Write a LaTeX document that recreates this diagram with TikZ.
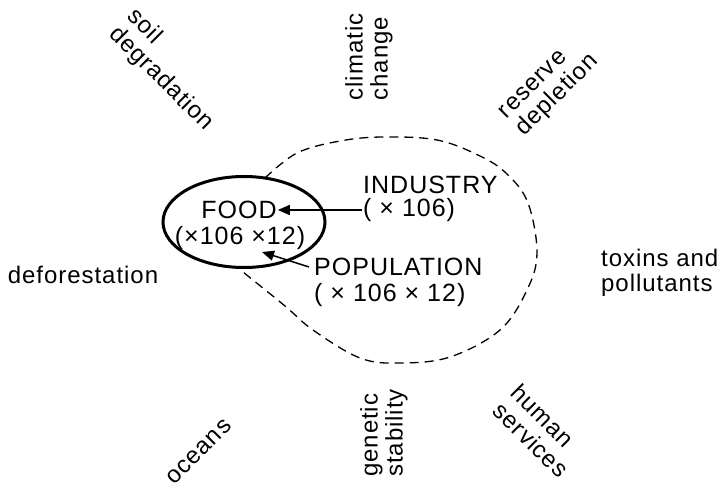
\documentclass[tikz,border=0pt]{standalone}
\usepackage{fontspec}
\setmainfont{Liberation Sans}[LetterSpace=4]
\usetikzlibrary{arrows.meta,shapes.geometric}
\tikzset{
  lab/.style={font=\fontsize{24}{25}\selectfont, align=left, inner sep=0pt},
  mid/.style={font=\fontsize{25}{25}\selectfont, inner sep=1pt},
  arr/.style={line width=1.5pt, -{Triangle[length=12pt,width=10pt]}},
  ring/.style={draw, ellipse, line width=3pt},
  blob/.style={line width=1.3pt, dash pattern=on 9pt off 6pt}
}
\begin{document}
\begin{tikzpicture}[x=1pt,y=-1pt]
\useasboundingbox (0,0) rectangle (718,489);
% outer labels
\node[lab, rotate=-45] (soil) at (170,70) {soil\\degradation};
\node[lab, rotate=90] (clim) at (369,57) {climatic\\change};
\node[lab, rotate=45] (res) at (550,88) {reserve\\depletion};
\node[lab] (defo) at (83,275) {deforestation};
\node[lab, anchor=west] (tox) at (601,273) {toxins and\\pollutants};
\node[lab, rotate=45] (ocean) at (199,452) {oceans};
\node[lab, rotate=90] (gen) at (384,433) {genetic\\stability};
\node[lab, rotate=-45] (hum) at (540,431) {human\\services};
% dashed region
\draw[blob] plot[smooth, tension=0.6] coordinates {(265,178) (297,153) (340,141) (383,137) (437,140) (480,156) (507,174) (528,203) (537,253) (527,290) (500,330) (450,357) (400,363) (360,358) (313,330) (285,306) (243,272)};
% food ellipse
\node[ring, minimum width=162pt, minimum height=91pt] (ring) at (244,222) {};
\node[mid] (food) at (239,210) {FOOD};
\node[mid] (foodx) at (240,238) {(×106 ×12)};
\node[mid, anchor=west] (ind) at (362,185) {INDUSTRY};
\node[mid, anchor=west] (indx) at (362,210) {( × 106)};
\node[mid, anchor=west] (pop) at (313,267) {POPULATION};
\node[mid, anchor=west] (popx) at (313,295) {( × 106 × 12)};
\coordinate (ptip) at (262,252);
\draw[arr] (indx.west) -- (food.east);
\draw[arr] ([xshift=-4pt]pop.west) -- (ptip);
\end{tikzpicture}
\end{document}
